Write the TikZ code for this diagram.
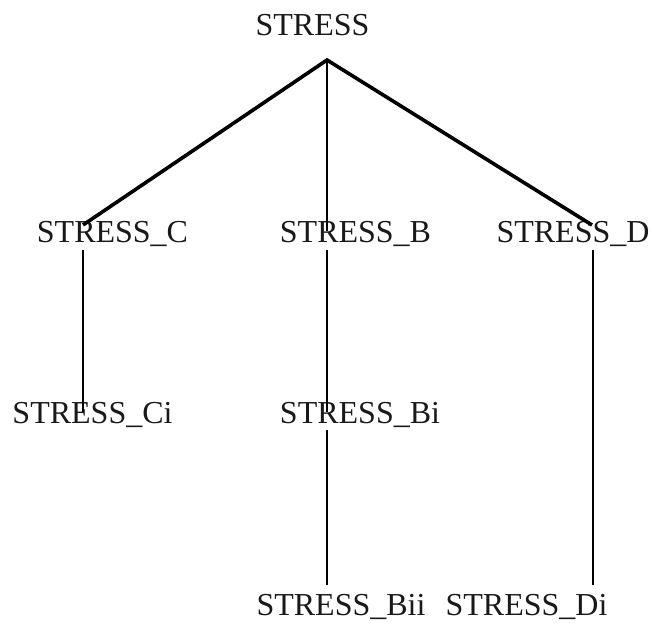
\documentclass[tikz,border=0pt]{standalone}
\usepackage{fontspec}
\setmainfont{Liberation Serif}
\usepackage{tikz}

\tikzset{
  lbl/.style={anchor=base,inner sep=0pt,text=black!90,font=\fontsize{32}{38}\selectfont},
  heavy/.style={line width=3.6pt},
  light/.style={line width=2pt}
}

\begin{document}
\begin{tikzpicture}[x=1pt,y=-1pt]
				\useasboundingbox (0,0) rectangle (652,627);
				
				% 第一层
				\node[lbl] (s) at (312.5,35) {STRESS};
				
				% 第二层
				\node[lbl] (sc) at (112.5,242) {STRESS\_C};
				\node[lbl] (sb) at (355.5,242) {STRESS\_B};
				\node[lbl] (sd) at (573,242) {STRESS\_D};
				
				% 第三层
				\node[lbl] (sci) at (92.5,423) {STRESS\_Ci};
				\node[lbl] (sbi) at (360,423) {STRESS\_Bi};
				
				% 第四层
				\node[lbl] (sbii) at (341,615) {STRESS\_Bii};
				\node[lbl] (sdi) at (526.5,615) {STRESS\_Di};
				
				% 连线端点
				\coordinate (top) at (327,60);
				\coordinate (c-in) at (83,225);
				\coordinate (b-in) at (327,231);
				\coordinate (d-in) at (592,225);
				\coordinate (c-out) at (83,250);
				\coordinate (ci-in) at (83,412);
				\coordinate (b-out) at (327,250);
				\coordinate (bi-in) at (327,412);
				\coordinate (bi-out) at (327,430);
				\coordinate (bii-in) at (327,585);
				\coordinate (d-out) at (593,250);
				\coordinate (di-in) at (593,585);
				
				% 树枝
				\draw[heavy] (c-in) -- (top) -- (d-in);
				\draw[light] (top) -- (b-in);
				\draw[light] (c-out) -- (ci-in);
				\draw[light] (b-out) -- (bi-in);
				\draw[light] (bi-out) -- (bii-in);
				\draw[light] (d-out) -- (di-in);
				
			\end{tikzpicture}
\end{document}
